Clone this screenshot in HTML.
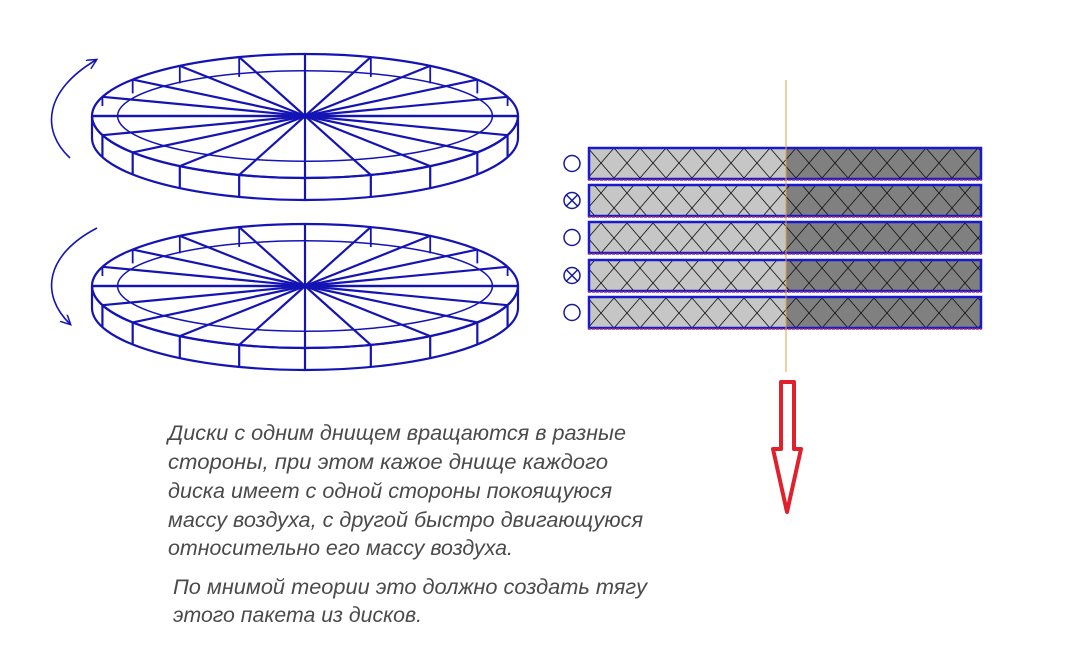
<!DOCTYPE html>
<html><head><meta charset="utf-8"><style>
html,body{margin:0;padding:0;background:#fff;width:1081px;height:656px;overflow:hidden}
svg{display:block}
text{font-family:"Liberation Sans",sans-serif;font-style:italic;font-size:21px;fill:#4a4a4a}
</style></head><body>
<svg id="s" width="1081" height="656" viewBox="0 0 1081 656" xmlns="http://www.w3.org/2000/svg">
<defs>
<pattern id="hx" x="588" y="148" width="26" height="30" patternUnits="userSpaceOnUse">
<path d="M0 0L26 30M26 0L0 30" stroke="#111" stroke-width="0.8" fill="none"/>
</pattern>
<marker id="ah" markerWidth="12" markerHeight="12" refX="9" refY="5" orient="auto" markerUnits="userSpaceOnUse">
<path d="M0 0L10 5L0 10" fill="none" stroke="#1414b4" stroke-width="1.5"/>
</marker>
</defs>
<g id="disks" stroke="#1414b4" stroke-width="2.2" fill="none"></g>
<path d="M70 158 C40 130 45 90 96 60" stroke="#1414b4" stroke-width="1.6" fill="none" marker-end="url(#ah)"/>
<path d="M97 228 C45 255 40 295 70 324" stroke="#1414b4" stroke-width="1.6" fill="none" marker-end="url(#ah)"/>
<g id="bars"></g>
<line x1="786" y1="80" x2="786" y2="372" stroke="#e0a040" stroke-width="1"/>
<path d="M781 382H794V449H801L787 512L773 449H781Z" fill="none" stroke="#e0202a" stroke-width="4" stroke-linejoin="round"/>
<text x="168" y="440" textLength="458" lengthAdjust="spacingAndGlyphs">Диски с одним днищем вращаются в разные</text>
<text x="168" y="469" textLength="440" lengthAdjust="spacingAndGlyphs">стороны, при этом кажое днище каждого</text>
<text x="168" y="498" textLength="444" lengthAdjust="spacingAndGlyphs">диска имеет с одной стороны покоящуюся</text>
<text x="168" y="527" textLength="475" lengthAdjust="spacingAndGlyphs">массу воздуха, с другой быстро двигающуюся</text>
<text x="168" y="555" textLength="345" lengthAdjust="spacingAndGlyphs">относительно его массу воздуха.</text>
<text x="173" y="594" textLength="474" lengthAdjust="spacingAndGlyphs">По мнимой теории это должно создать тягу</text>
<text x="173" y="622" textLength="249" lengthAdjust="spacingAndGlyphs">этого пакета из дисков.</text>
</svg>
<script>
var NS="http://www.w3.org/2000/svg";
function el(p,n,a){var e=document.createElementNS(NS,n);for(var k in a)e.setAttribute(k,a[k]);p.appendChild(e);return e;}
var g=document.getElementById('disks');
function disk(cx,cy){
 var rx=213,ry=62,d=22,N=20;
 el(g,'ellipse',{cx:cx,cy:cy,rx:rx,ry:ry});
 el(g,'path',{d:'M'+(cx-rx)+' '+cy+' A'+rx+' '+ry+' 0 0 0 '+(cx+rx)+' '+cy+' M'+(cx-rx)+' '+(cy+d)+' A'+rx+' '+ry+' 0 0 0 '+(cx+rx)+' '+(cy+d)});
 el(g,'ellipse',{cx:cx,cy:cy,rx:rx*0.88,ry:ry*0.73,'stroke-width':1.5});
 for(var k=0;k<N;k++){
  var t=k*2*Math.PI/N+Math.PI/2, x=cx+rx*Math.cos(t), y=cy+ry*Math.sin(t);
  el(g,'line',{x1:cx,y1:cy,x2:x,y2:y});
  if(Math.sin(t)>=-0.01) el(g,'line',{x1:x,y1:y,x2:x,y2:y+d});
  else { var xi=cx+rx*0.88*Math.cos(t), yi=cy+ry*0.73*Math.sin(t); el(g,'line',{x1:x,y1:y,x2:x,y2:yi+4,'stroke-width':1.8}); }
 }
 el(g,'line',{x1:cx-rx,y1:cy,x2:cx+rx,y2:cy});
}
disk(305,116);disk(305,286);
var b=document.getElementById('bars');
var ys=[148,185,222,260,297],h=31;
ys.forEach(function(y,i){
 el(b,'rect',{x:588,y:y,width:198,height:h,fill:'#c6c6c6'});
 el(b,'rect',{x:786,y:y,width:196,height:h,fill:'#808080'});
 el(b,'rect',{x:588,y:y,width:394,height:h,fill:'url(#hx)'});
 el(b,'rect',{x:589,y:y,width:392,height:h,fill:'none',stroke:'#1a1acc','stroke-width':2.5});
 el(b,'line',{x1:588,y1:y+h+1,x2:982,y2:y+h+1,stroke:'#a03070','stroke-width':1.5,'stroke-dasharray':'3 1'});
 var cy=y+h/2;
 el(b,'circle',{cx:572,cy:cy,r:8,fill:'none',stroke:'#1a1a99','stroke-width':1.5});
 if(i%2==1){var r=5.6;el(b,'path',{d:'M'+(572-r)+' '+(cy-r)+'L'+(572+r)+' '+(cy+r)+'M'+(572+r)+' '+(cy-r)+'L'+(572-r)+' '+(cy+r),stroke:'#1a1a99','stroke-width':1.5});}
});
</script>
</body></html>
